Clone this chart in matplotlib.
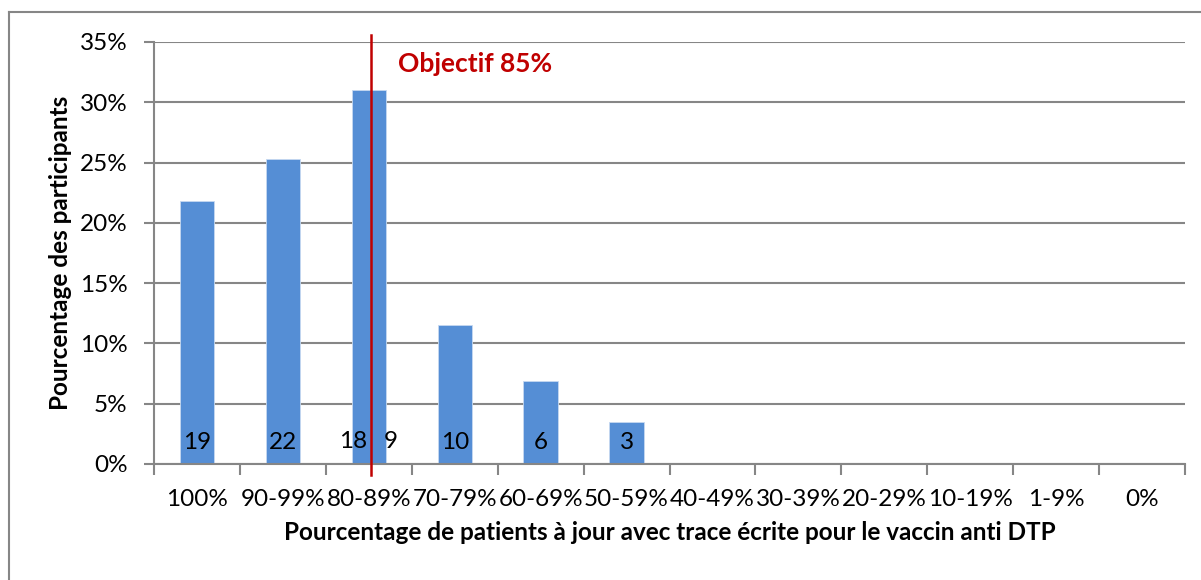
import matplotlib.pyplot as plt
from matplotlib.lines import Line2D
from matplotlib.ticker import FuncFormatter

# Data

categories = ["100%", "90-99%", "80-89%", "70-79%", "60-69%", "50-59%",
              "40-49%", "30-39%", "20-29%", "10-19%", "1-9%", "0%"]
counts = [19, 22, 27, 10, 6, 3, 0, 0, 0, 0, 0, 0]
count_labels = ["19", "22", "", "10", "6", "3", "", "", "", "", "", ""]
split_labels = ["18", "9"]   # 80-89% bar split around the 85% target
total = sum(counts)
shares = [c / total for c in counts]
target_label = "Objectif 85%"

plt.rcParams['font.family'] = ['Lato', 'DejaVu Sans']
fs = 17.5

fig = plt.figure(figsize=(12.01, 5.80), dpi=100)
ax = fig.add_axes([154 / 1201, 1 - 464 / 580, (1185 - 154) / 1201, (464 - 42) / 580])

x = list(range(len(categories)))
ax.bar(x, shares, width=0.4, color="#558ED5", edgecolor="#C6D9F1", linewidth=0.6, zorder=2)

ax.set_xlim(-0.5, len(categories) - 0.5)
ax.set_ylim(0, 0.35)
ax.set_yticks([i * 0.05 for i in range(8)])
ax.yaxis.set_major_formatter(FuncFormatter(lambda v, p: "%d%%" % round(v * 100)))
ax.grid(axis='y', color="#868686", linewidth=1.5, zorder=0)

# ticks at category boundaries
ax.set_xticks([i - 0.5 for i in range(len(categories) + 1)])
ax.set_xticklabels([])
ax.set_xticks(x, minor=True)
ax.set_xticklabels(categories, minor=True, fontsize=fs)
ax.tick_params(axis='x', which='major', length=8, width=1.5, color="#868686", direction='out')
ax.tick_params(axis='x', which='minor', length=0, pad=18)
ax.tick_params(axis='y', length=7, width=1.5, color="#868686", labelsize=fs, pad=12)

for s in ['top', 'right']:
    ax.spines[s].set_visible(False)
for s in ['left', 'bottom']:
    ax.spines[s].set_color("#868686")
    ax.spines[s].set_linewidth(1.5)

# counts inside bars
for i, lab in enumerate(count_labels):
    if lab:
        ax.text(i, 0.0175, lab, ha='center', va='center', fontsize=fs, zorder=4)
ax.text(1.82, 0.0185, split_labels[0], ha='center', va='center', fontsize=fs, zorder=4)
ax.text(2.25, 0.0185, split_labels[1], ha='center', va='center', fontsize=fs, zorder=4)

# 85% target line
ax.plot([2.02, 2.02], [-0.0095, 0.356], color="#C00000", linewidth=1.8, clip_on=False, zorder=5)
ax.text(2.34, 0.332, target_label, color="#C00000", fontsize=19, fontweight='bold',
        ha='left', va='center')

ax.set_ylabel("Pourcentage des participants", fontsize=fs, fontweight='bold', labelpad=6)
ax.set_xlabel("Pourcentage de patients à jour avec trace écrite pour le vaccin anti DTP",
              fontsize=fs, fontweight='bold', labelpad=8)

# chart border (only top and left are visible in frame)
fig.add_artist(Line2D([9 / 1201, 9 / 1201], [0, 1 - 12 / 580], color="#868686", linewidth=1.5))
fig.add_artist(Line2D([9 / 1201, 1], [1 - 12 / 580, 1 - 12 / 580], color="#868686", linewidth=1.5))

fig.savefig("out.png", dpi=100)
